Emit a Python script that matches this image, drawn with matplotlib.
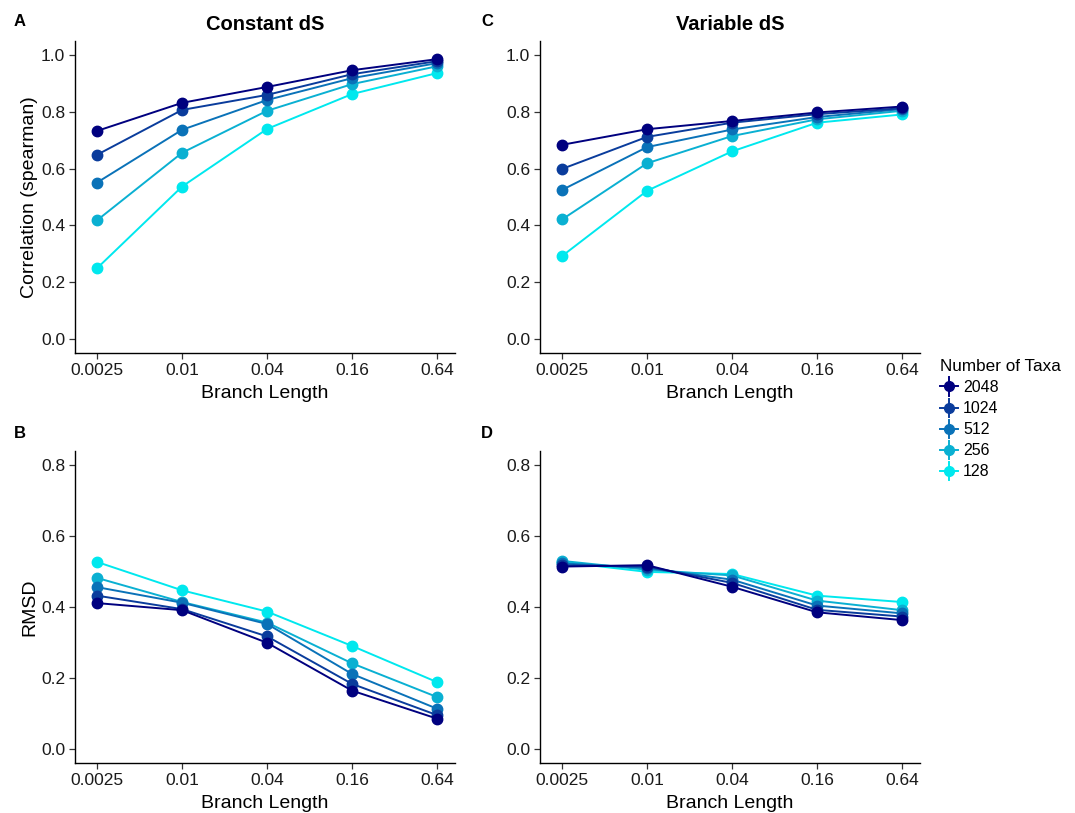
import matplotlib
matplotlib.use("Agg")
import matplotlib.pyplot as plt
from matplotlib.lines import Line2D
from matplotlib.legend_handler import HandlerBase
import numpy as np

plt.rcParams['font.family'] = ['Liberation Sans', 'DejaVu Sans']

branch_lengths = ["0.0025", "0.01", "0.04", "0.16", "0.64"]
taxa = ["2048", "1024", "512", "256", "128"]
colors = ["#00007f", "#0a3c9c", "#0a72b8", "#0ab0d2", "#00e8ee"]

# spearman correlation, constant dS (rows follow taxa)
corr_const = [
    [0.733, 0.832, 0.888, 0.947, 0.986],
    [0.649, 0.807, 0.860, 0.933, 0.979],
    [0.551, 0.737, 0.842, 0.919, 0.972],
    [0.418, 0.656, 0.804, 0.898, 0.961],
    [0.249, 0.537, 0.740, 0.863, 0.937],
]
# spearman correlation, variable dS
corr_var = [
    [0.684, 0.739, 0.768, 0.798, 0.819],
    [0.599, 0.712, 0.762, 0.792, 0.813],
    [0.525, 0.676, 0.738, 0.782, 0.810],
    [0.421, 0.619, 0.715, 0.774, 0.804],
    [0.292, 0.522, 0.661, 0.762, 0.791],
]
# RMSD, constant dS
rmsd_const = [
    [0.411, 0.391, 0.299, 0.164, 0.085],
    [0.432, 0.394, 0.317, 0.183, 0.095],
    [0.456, 0.412, 0.352, 0.211, 0.113],
    [0.482, 0.414, 0.356, 0.241, 0.146],
    [0.527, 0.447, 0.387, 0.290, 0.188],
]
# RMSD, variable dS
rmsd_var = [
    [0.514, 0.518, 0.457, 0.385, 0.363],
    [0.518, 0.514, 0.468, 0.392, 0.373],
    [0.523, 0.510, 0.477, 0.404, 0.382],
    [0.530, 0.505, 0.489, 0.418, 0.391],
    [0.527, 0.499, 0.493, 0.432, 0.414],
]

W, H = 1075, 813
fig = plt.figure(figsize=(W / 100, H / 100), dpi=100)


def add_ax(x0, x1, y0, y1):
    return fig.add_axes([x0 / W, 1 - y1 / H, (x1 - x0) / W, (y1 - y0) / H])


axA = add_ax(75, 455, 41, 353)
axC = add_ax(540, 920, 41, 353)
axB = add_ax(75, 455, 451, 763)
axD = add_ax(540, 920, 451, 763)

xpos = np.arange(len(branch_lengths))


def draw(ax, data, ylim, yticks):
    for i in range(len(taxa) - 1, -1, -1):
        ax.plot(xpos, data[i], color=colors[i], lw=1.4, marker='o', ms=7.5,
                mec=colors[i], mfc=colors[i], zorder=3 + (len(taxa) - i))
    ax.set_xlim(-0.26, 4.21)
    ax.set_ylim(*ylim)
    ax.set_xticks(xpos)
    ax.set_xticklabels(branch_lengths)
    ax.set_yticks(yticks)
    ax.set_yticklabels(["%.1f" % t for t in yticks])
    for s in ["top", "right"]:
        ax.spines[s].set_visible(False)
    for s in ["left", "bottom"]:
        ax.spines[s].set_linewidth(1.0)
        ax.spines[s].set_color("black")
    ax.tick_params(direction='out', length=4, width=0.9, colors='#333333',
                   labelsize=12.5, labelcolor='#1a1a1a', pad=3)
    ax.set_xlabel("Branch Length", fontsize=14, labelpad=5)


corr_ticks = [0.0, 0.2, 0.4, 0.6, 0.8, 1.0]
rmsd_ticks = [0.0, 0.2, 0.4, 0.6, 0.8]
draw(axA, corr_const, (-0.05, 1.05), corr_ticks)
draw(axC, corr_var, (-0.05, 1.05), corr_ticks)
draw(axB, rmsd_const, (-0.04, 0.84), rmsd_ticks)
draw(axD, rmsd_var, (-0.04, 0.84), rmsd_ticks)

axA.set_ylabel("Correlation (spearman)", fontsize=14, labelpad=2)
axB.set_ylabel("RMSD", fontsize=14, labelpad=2)

axA.set_title("Constant dS", fontsize=14.5, fontweight='bold', pad=8)
axC.set_title("Variable dS", fontsize=14.5, fontweight='bold', pad=8)

for lab, (px, py) in zip("ACBD", [(14, 22), (481, 22), (14, 433), (481, 433)]):
    fig.text(px / W, 1 - py / H, lab, fontsize=12, fontweight='bold',
             ha='left', va='center')


class PointRangeHandler(HandlerBase):
    """Legend key: horizontal line, vertical range line and a dot."""

    def create_artists(self, legend, orig_handle, xdescent, ydescent,
                       width, height, fontsize, trans):
        c = orig_handle.get_color()
        cx = width / 2 - xdescent
        cy = height / 2 - ydescent
        half = 6.5
        hline = Line2D([-xdescent, width - xdescent], [cy, cy], color=c,
                       lw=1.4, transform=trans)
        vline = Line2D([cx, cx], [cy - half, cy + half], color=c, lw=1.4,
                       transform=trans)
        dot = Line2D([cx], [cy], color=c, marker='o', ms=7, lw=0,
                     transform=trans)
        return [hline, vline, dot]


handles = [Line2D([], [], color=c) for c in colors]
leg = fig.legend(handles, taxa, title="Number of Taxa",
                 handler_map={Line2D: PointRangeHandler()},
                 loc='upper left', bbox_to_anchor=(940 / W, 1 - 359 / H),
                 frameon=False, fontsize=11.5, title_fontsize=12.3,
                 handlelength=1.15, handleheight=0.7, handletextpad=0.3,
                 labelspacing=0.38, borderaxespad=0, borderpad=0)
leg._legend_box.align = "left"

fig.savefig("out.png", dpi=100, facecolor='white')
